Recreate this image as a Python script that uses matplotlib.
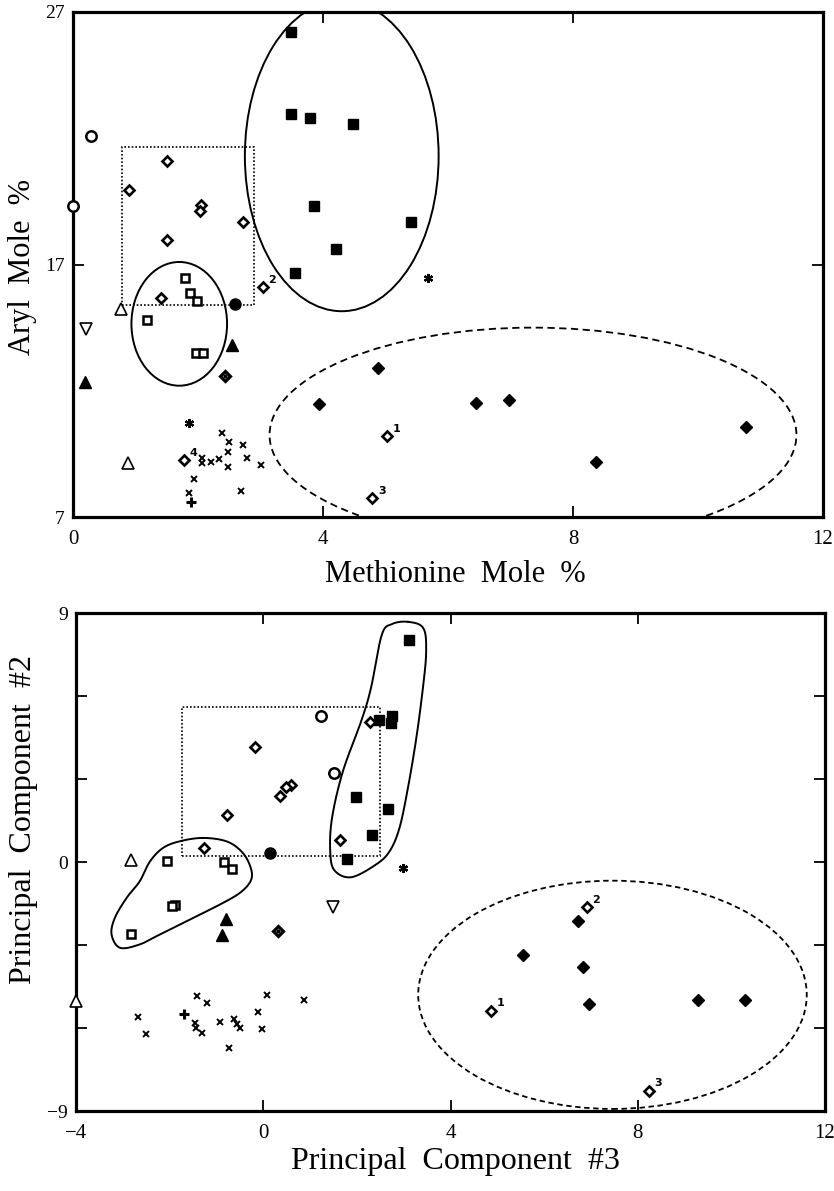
import numpy as np
import matplotlib
matplotlib.use("Agg")
import matplotlib.pyplot as plt
from matplotlib.patches import Ellipse, Rectangle

plt.rcParams['font.family'] = ['Liberation Serif', 'DejaVu Serif']

# ---------------- top panel: Methionine vs Aryl mole % ----------------
t_fsq_x = [3.49, 3.49, 3.79, 4.48, 3.86, 5.41, 4.21, 3.55]
t_fsq_y = [26.2, 22.96, 22.8, 22.56, 19.3, 18.7, 17.6, 16.66]
t_odi_x = [1.5, 0.9, 2.05, 2.03, 2.72, 1.5, 3.04, 1.41, 1.78, 5.03, 4.79]
t_odi_y = [21.1, 19.95, 19.36, 19.1, 18.7, 17.97, 16.1, 15.67, 9.26, 10.22, 7.74]
t_odi_lab = ['', '', '', '', '', '', '2', '', '4', '1', '3']
t_ddi_x = [2.43]
t_ddi_y = [12.6]
t_fdi_x = [3.94, 4.88, 6.44, 6.98, 10.76, 8.37]
t_fdi_y = [11.48, 12.9, 11.52, 11.65, 10.55, 9.16]
t_osq_x = [1.79, 1.87, 1.98, 1.18, 1.97, 2.08]
t_osq_y = [16.47, 15.87, 15.55, 14.8, 13.5, 13.5]
t_oci_x = [0.29, 0.0]
t_oci_y = [22.1, 19.3]
t_fci_x = [2.59]
t_fci_y = [15.44]
t_otu_x = [0.77, 0.88]
t_otu_y = [15.24, 9.14]
t_otd_x = [0.2]
t_otd_y = [14.45]
t_ftu_x = [2.54, 0.19]
t_ftu_y = [13.8, 12.35]
t_ast_x = [5.68, 1.85]
t_ast_y = [16.47, 10.73]
t_plus_x = [1.88]
t_plus_y = [7.58]
t_x_x = [2.39, 2.50, 2.72, 2.48, 2.79, 2.34, 2.06, 2.06, 2.20, 2.48, 3.0, 1.94, 2.68, 1.86]
t_x_y = [10.31, 9.96, 9.85, 9.56, 9.32, 9.28, 9.32, 9.13, 9.17, 8.97, 9.06, 8.49, 8.04, 7.94]

# ---------------- bottom panel: PC3 vs PC2 ----------------
b_fsq_x = [3.12, 2.48, 2.75, 2.73, 1.98, 2.66, 2.32, 1.79]
b_fsq_y = [8.03, 5.14, 5.26, 5.02, 2.34, 1.91, 0.99, 0.12]
b_odi_x = [2.28, 1.64, -0.18, 0.6, 0.48, 0.35, -0.77, -1.27, 6.91, 4.86, 8.24]
b_odi_y = [5.05, 0.78, 4.15, 2.79, 2.70, 2.39, 1.69, 0.51, -1.64, -5.37, -8.26]
b_odi_lab = ['', '', '', '', '', '', '', '', '2', '1', '3']
b_ddi_x = [0.31]
b_ddi_y = [-2.50]
b_fdi_x = [6.72, 5.55, 6.82, 6.96, 9.28, 10.30]
b_fdi_y = [-2.12, -3.37, -3.79, -5.15, -4.97, -4.97]
b_osq_x = [-2.05, -0.84, -0.67, -1.89, -1.94, -2.83]
b_osq_y = [0.02, 0.0, -0.25, -1.54, -1.60, -2.59]
b_oci_x = [1.24, 1.52]
b_oci_y = [5.26, 3.21]
b_fci_x = [0.14]
b_fci_y = [0.32]
b_otu_x = [-2.83, -4.0]
b_otu_y = [0.08, -5.03]
b_otd_x = [1.49]
b_otd_y = [-1.62]
b_ftu_x = [-0.79, -0.88]
b_ftu_y = [-2.05, -2.65]
b_ast_x = [2.98]
b_ast_y = [-0.22]
b_plus_x = [-1.70]
b_plus_y = [-5.49]
b_x_x = [-2.68, -2.51, -1.41, -1.21, -1.46, -1.44, -1.30, -0.93, -0.63, -0.57,
         -0.50, -0.73, -0.11, -0.03, 0.09, 0.88]
b_x_y = [-5.60, -6.23, -4.85, -5.11, -5.81, -5.99, -6.17, -5.79, -5.67, -5.84,
         -5.99, -6.71, -5.43, -6.05, -4.79, -4.97]

# hand-drawn cluster outlines (data coords)
b_blob_right = [(3.10, 8.68), (3.42, 8.45), (3.48, 7.6), (3.41, 6.28), (3.27, 4.48),
                (3.09, 2.67), (2.91, 1.23), (2.70, 0.39), (2.41, -0.09), (1.88, -0.55),
                (1.52, -0.3), (1.43, 0.4), (1.47, 1.6), (1.70, 3.27), (2.09, 5.08),
                (2.30, 6.28), (2.53, 8.2), (2.75, 8.6)]
b_blob_left = [(-1.29, 0.87), (-0.79, 0.75), (-0.47, 0.39), (-0.29, -0.1), (-0.25, -0.6),
               (-0.45, -1.05), (-0.85, -1.47), (-1.64, -2.14), (-2.21, -2.62),
               (-2.64, -2.98), (-3.06, -3.10), (-3.24, -2.62), (-3.17, -2.02),
               (-2.92, -1.30), (-2.64, -0.70), (-2.42, 0.02), (-2.14, 0.51), (-1.78, 0.75)]


def closed_spline(pts, n=30):
    # closed Catmull-Rom through outline points
    p = np.asarray(pts, float)
    out = []
    m = len(p)
    t = np.linspace(0, 1, n, endpoint=False)[:, None]
    for i in range(m):
        p0, p1, p2, p3 = p[i - 1], p[i], p[(i + 1) % m], p[(i + 2) % m]
        seg = 0.5 * ((2 * p1) + (-p0 + p2) * t + (2 * p0 - 5 * p1 + 4 * p2 - p3) * t ** 2
                     + (-p0 + 3 * p1 - 3 * p2 + p3) * t ** 3)
        out.append(seg)
    out = np.vstack(out)
    return np.vstack([out, out[:1]])


def draw_points(ax, d, lab_x, lab_y, labs):
    k = dict(linestyle='none', clip_on=False, zorder=5)
    ax.plot(d['fsq'][0], d['fsq'][1], marker='s', ms=7, color='k', **k)
    ax.plot(d['osq'][0], d['osq'][1], marker='s', ms=6.2, mfc='white', mec='k', mew=1.8, **k)
    ax.plot(d['odi'][0], d['odi'][1], marker='D', ms=5.5, mfc='white', mec='k', mew=1.9, **k)
    ax.plot(d['ddi'][0], d['ddi'][1], marker='D', ms=5.5, mfc='white', mec='k', mew=2.3, **k)
    ax.plot(d['ddi'][0], d['ddi'][1], marker='o', ms=2, color='k', **k)
    ax.plot(d['fdi'][0], d['fdi'][1], marker='D', ms=6.5, color='k', **k)
    ax.plot(d['oci'][0], d['oci'][1], marker='o', ms=7.5, mfc='white', mec='k', mew=1.8, **k)
    ax.plot(d['fci'][0], d['fci'][1], marker='o', ms=8, color='k', **k)
    ax.plot(d['otu'][0], d['otu'][1], marker='^', ms=8, mfc='white', mec='k', mew=1.2, **k)
    ax.plot(d['otd'][0], d['otd'][1], marker='v', ms=8, mfc='white', mec='k', mew=1.2, **k)
    ax.plot(d['ftu'][0], d['ftu'][1], marker='^', ms=8, color='k', **k)
    ax.plot(d['ast'][0], d['ast'][1], marker=(6, 2, 0), ms=6.5, color='k', mew=1.6, **k)
    ax.plot(d['plus'][0], d['plus'][1], marker='+', ms=7, color='k', mew=2.2, **k)
    ax.plot(d['x'][0], d['x'][1], marker='x', ms=4.8, color='k', mew=1.4, **k)
    for xx, yy, s in zip(lab_x, lab_y, labs):
        if s:
            ax.annotate(s, (xx, yy), xytext=(4, 3), textcoords='offset points',
                        fontsize=8, fontweight='bold', family='DejaVu Sans', zorder=6)


def style_axes(ax):
    for sp in ax.spines.values():
        sp.set_linewidth(2.3)
    ax.tick_params(direction='in', length=8, width=1.3, top=True, right=True,
                   labelsize=15, pad=9)
    ax.tick_params(axis='y', labelsize=14, pad=6)


fig = plt.figure(figsize=(8.34, 11.91), dpi=100)
W, H = 834.0, 1191.0

# ---- top ----
ax1 = fig.add_axes([73 / W, 1 - 517 / H, 750 / W, 505 / H])
ax1.set_xlim(0, 12)
ax1.set_ylim(7, 27)
ax1.set_xticks([0, 4, 8, 12])
ax1.set_yticks([7, 17, 27])
style_axes(ax1)

ax1.add_patch(Ellipse((4.3, 21.3), 3.1, 12.3, fill=False, lw=1.4, color='k'))
ax1.add_patch(Ellipse((1.7, 14.65), 1.53, 4.9, fill=False, lw=1.4, color='k'))
ax1.add_patch(Ellipse((7.36, 10.25), 8.43, 8.5, fill=False, lw=1.3, color='k',
                      linestyle=(0, (4, 2.5))))
ax1.add_patch(Rectangle((0.78, 15.4), 2.9 - 0.78, 21.65 - 15.4, fill=False, lw=1.2,
                        color='k', linestyle=(0, (1, 1.2))))

top = dict(fsq=(t_fsq_x, t_fsq_y), osq=(t_osq_x, t_osq_y), odi=(t_odi_x, t_odi_y),
           ddi=(t_ddi_x, t_ddi_y), fdi=(t_fdi_x, t_fdi_y), oci=(t_oci_x, t_oci_y),
           fci=(t_fci_x, t_fci_y), otu=(t_otu_x, t_otu_y), otd=(t_otd_x, t_otd_y),
           ftu=(t_ftu_x, t_ftu_y), ast=(t_ast_x, t_ast_y), plus=(t_plus_x, t_plus_y),
           x=(t_x_x, t_x_y))
draw_points(ax1, top, t_odi_x, t_odi_y, t_odi_lab)

# ---- bottom ----
ax2 = fig.add_axes([76 / W, 1 - 1111 / H, 749 / W, 498 / H])
ax2.set_xlim(-4, 12)
ax2.set_ylim(-9, 9)
ax2.set_xticks([-4, 0, 4, 8, 12])
ax2.set_xticklabels(['\u22124', '0', '4', '8', '12'])
ax2.set_yticks([-9, -6, -3, 0, 3, 6, 9])
ax2.set_yticklabels(['\u22129', '', '', '0', '', '', '9'])
style_axes(ax2)

for blob in (b_blob_right, b_blob_left):
    c = closed_spline(blob)
    ax2.plot(c[:, 0], c[:, 1], color='k', lw=1.4)
ax2.add_patch(Ellipse((7.46, -4.8), 8.3, 8.25, fill=False, lw=1.3, color='k',
                      linestyle=(0, (3, 2))))
ax2.add_patch(Rectangle((-1.73, 0.2), 2.5 + 1.73, 5.62 - 0.2, fill=False, lw=1.2,
                        color='k', linestyle=(0, (1, 1.2))))

bot = dict(fsq=(b_fsq_x, b_fsq_y), osq=(b_osq_x, b_osq_y), odi=(b_odi_x, b_odi_y),
           ddi=(b_ddi_x, b_ddi_y), fdi=(b_fdi_x, b_fdi_y), oci=(b_oci_x, b_oci_y),
           fci=(b_fci_x, b_fci_y), otu=(b_otu_x, b_otu_y), otd=(b_otd_x, b_otd_y),
           ftu=(b_ftu_x, b_ftu_y), ast=(b_ast_x, b_ast_y), plus=(b_plus_x, b_plus_y),
           x=(b_x_x, b_x_y))
draw_points(ax2, bot, b_odi_x, b_odi_y, b_odi_lab)

# axis titles
fig.text(455 / W, 1 - 575 / H, 'Methionine  Mole  %', ha='center', va='center', fontsize=22)
fig.text(23 / W, 1 - 267 / H, 'Aryl  Mole  %', ha='center', va='center', fontsize=22,
         rotation=90)
fig.text(455 / W, 1 - 1162 / H, 'Principal  Component  #3', ha='center', va='center',
         fontsize=23)
fig.text(24 / W, 1 - 820 / H, 'Principal  Component  #2', ha='center', va='center',
         fontsize=23, rotation=90)

fig.savefig('out.png', dpi=100)
